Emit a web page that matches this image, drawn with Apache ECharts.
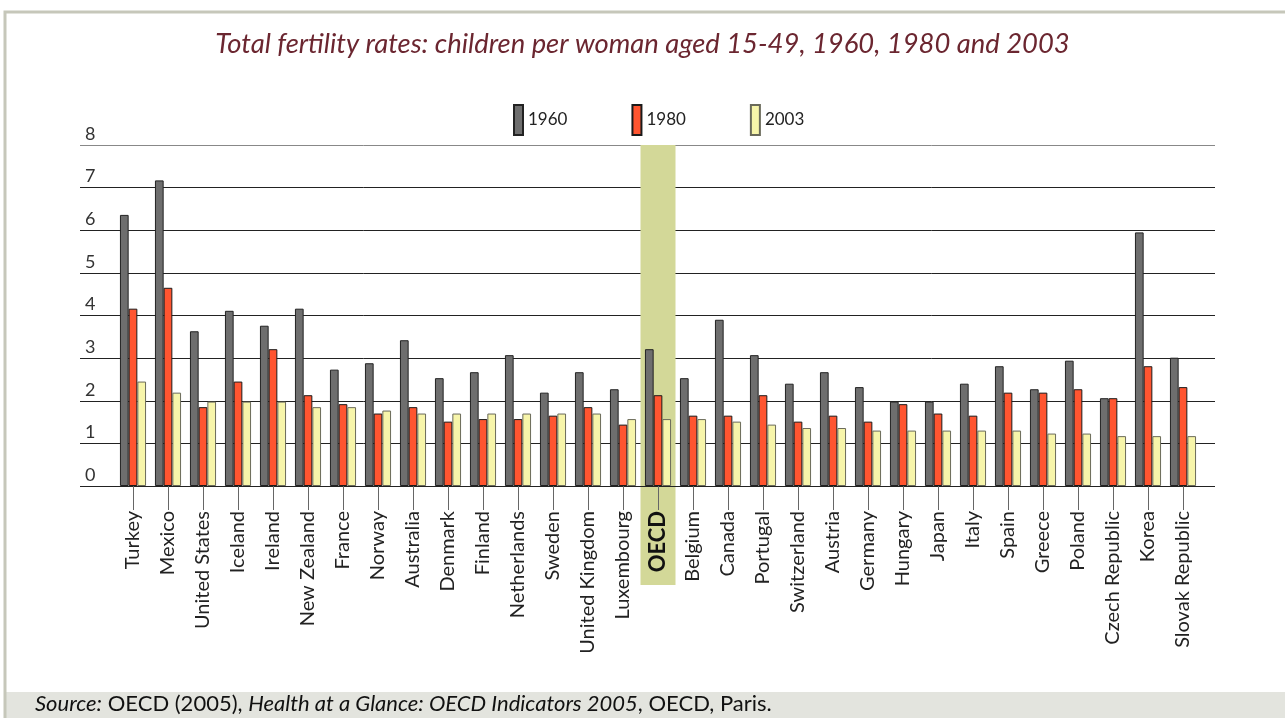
<!DOCTYPE html>
<html>
<head>
<meta charset="utf-8">
<script src="https://cdn.jsdelivr.net/npm/echarts@6/dist/echarts.min.js"></script>
<style>
  html, body { margin: 0; padding: 0; background: #fff; }
  #main { width: 1285px; height: 718px; }
</style>
</head>
<body>
<div id="main"></div>
<script>
// categories and values
var countries = ['Turkey', 'Mexico', 'United States', 'Iceland', 'Ireland', 'New Zealand', 'France',
  'Norway', 'Australia', 'Denmark', 'Finland', 'Netherlands', 'Sweden', 'United Kingdom', 'Luxembourg',
  'OECD', 'Belgium', 'Canada', 'Portugal', 'Switzerland', 'Austria', 'Germany', 'Hungary', 'Japan',
  'Italy', 'Spain', 'Greece', 'Poland', 'Czech Republic', 'Korea', 'Slovak Republic'];

var y1960 = [6.36, 7.17, 3.63, 4.11, 3.76, 4.16, 2.73, 2.88, 3.42, 2.53, 2.67, 3.07, 2.19, 2.67, 2.27,
  3.21, 2.53, 3.90, 3.07, 2.40, 2.67, 2.32, 1.98, 1.98, 2.40, 2.81, 2.27, 2.94, 2.06, 5.95, 3.01];
var y1980 = [4.16, 4.65, 1.85, 2.45, 3.21, 2.13, 1.92, 1.70, 1.85, 1.51, 1.57, 1.57, 1.65, 1.85, 1.44,
  2.13, 1.65, 1.65, 2.13, 1.51, 1.65, 1.51, 1.92, 1.70, 1.65, 2.19, 2.19, 2.27, 2.06, 2.81, 2.32];
var y2003 = [2.45, 2.19, 1.98, 1.98, 1.98, 1.85, 1.85, 1.77, 1.70, 1.70, 1.70, 1.70, 1.70, 1.70, 1.57,
  1.57, 1.57, 1.51, 1.44, 1.36, 1.36, 1.30, 1.30, 1.30, 1.30, 1.30, 1.23, 1.23, 1.17, 1.17, 1.17];

var yTicks = [0, 8, 1]; // min, max, interval
var highlight = 'OECD';

var font = 'Lato, "Open Sans", sans-serif';

var chart = echarts.init(document.getElementById('main'));

function barSeries(name, data, color, border) {
  return {
    name: name,
    type: 'bar',
    data: data,
    barWidth: 8.7,
    barGap: 0,
    z: 4,
    itemStyle: { color: color, borderColor: border, borderWidth: 1 }
  };
}

var option = {
  backgroundColor: '#fff',
  animation: false,
  title: {
    text: 'Total fertility rates: children per woman aged 15-49, 1960, 1980 and 2003',
    left: 'center',
    top: 26,
    textStyle: { fontFamily: font, fontStyle: 'italic', fontWeight: 'normal', fontSize: 27.4, color: '#6b2630' }
  },
  legend: {
    left: 508,
    top: 99,
    itemWidth: 9,
    itemHeight: 30,
    itemGap: 64,
    icon: 'rect',
    textStyle: { fontFamily: font, fontSize: 17, color: '#222', padding: [18, 0, 0, 0] },
    data: ['1960', '1980', '2003']
  },
  grid: [
    { left: 115.5, right: 84.5, top: 145, bottom: 232 },
    { left: 80, right: 70, top: 145, bottom: 232 }
  ],
  xAxis: [{
    type: 'category',
    gridIndex: 0,
    data: countries,
    z: 5,
    axisLine: { show: true, lineStyle: { color: '#222', width: 1 } },
    axisTick: { show: true, alignWithLabel: true, length: 24, lineStyle: { color: '#666' } },
    axisLabel: {
      rotate: 90,
      margin: 25,
      interval: 0,
      fontFamily: font,
      fontSize: 20,
      color: '#222',
      formatter: function (v) { return v === highlight ? '{b|' + v + '}' : v; },
      rich: { b: { fontFamily: font, fontSize: 22, fontWeight: 'bold', color: '#111' } }
    }
  }, {
    type: 'value',
    gridIndex: 1,
    min: 0,
    max: 1,
    show: false
  }],
  yAxis: [{
    type: 'value',
    gridIndex: 0,
    min: yTicks[0],
    max: yTicks[1],
    interval: yTicks[2],
    show: false
  }, {
    type: 'value',
    gridIndex: 1,
    min: yTicks[0],
    max: yTicks[1],
    interval: yTicks[2],
    axisLine: { show: false },
    axisTick: { show: false },
    splitLine: {
      show: true,
      lineStyle: { color: ['#222', '#222', '#222', '#222', '#222', '#222', '#222', '#222', '#888'], width: 1 }
    },
    axisLabel: {
      inside: true,
      margin: 5,
      verticalAlign: 'bottom',
      padding: [0, 0, 2, 0],
      fontFamily: font,
      fontSize: 18,
      color: '#333'
    }
  }],
  series: [
    barSeries('1960', y1960, '#6e6e6e', '#222'),
    barSeries('1980', y1980, '#ff5530', '#1a1a1a'),
    barSeries('2003', y2003, '#f7f5aa', '#6a6a5a')
  ]
};

chart.setOption(option);

// highlight band and frame, placed through the axis scales
var bx = chart.convertToPixel({ xAxisIndex: 0 }, highlight);
var step = chart.convertToPixel({ xAxisIndex: 0 }, countries[1]) - chart.convertToPixel({ xAxisIndex: 0 }, countries[0]);
var yTop = chart.convertToPixel({ yAxisIndex: 0 }, yTicks[1]);
var y0 = chart.convertToPixel({ yAxisIndex: 0 }, yTicks[0]);

chart.setOption({
  graphic: [{
    type: 'rect',
    z: 1,
    shape: { x: bx - step / 2, y: yTop, width: step, height: y0 - yTop + 99 },
    style: { fill: '#d3d898' }
  }, {
    type: 'rect',
    z: 0,
    shape: { x: 5, y: 692, width: 1285, height: 30 },
    style: { fill: '#e3e4de' }
  }, {
    type: 'rect',
    z: 0,
    shape: { x: 5, y: 12, width: 1290, height: 720 },
    style: { fill: 'none', stroke: '#c6c7ba', lineWidth: 3 }
  }, {
    type: 'text',
    z: 1,
    left: 35,
    top: 693,
    style: {
      text: '{i|Source:} OECD (2005), {i|Health at a Glance: OECD Indicators 2005}, OECD, Paris.',
      font: '22px ' + font,
      fill: '#111',
      rich: { i: { fontStyle: 'italic', fontFamily: font, fontSize: 22, fill: '#111' } }
    }
  }]
});
</script>
</body>
</html>
